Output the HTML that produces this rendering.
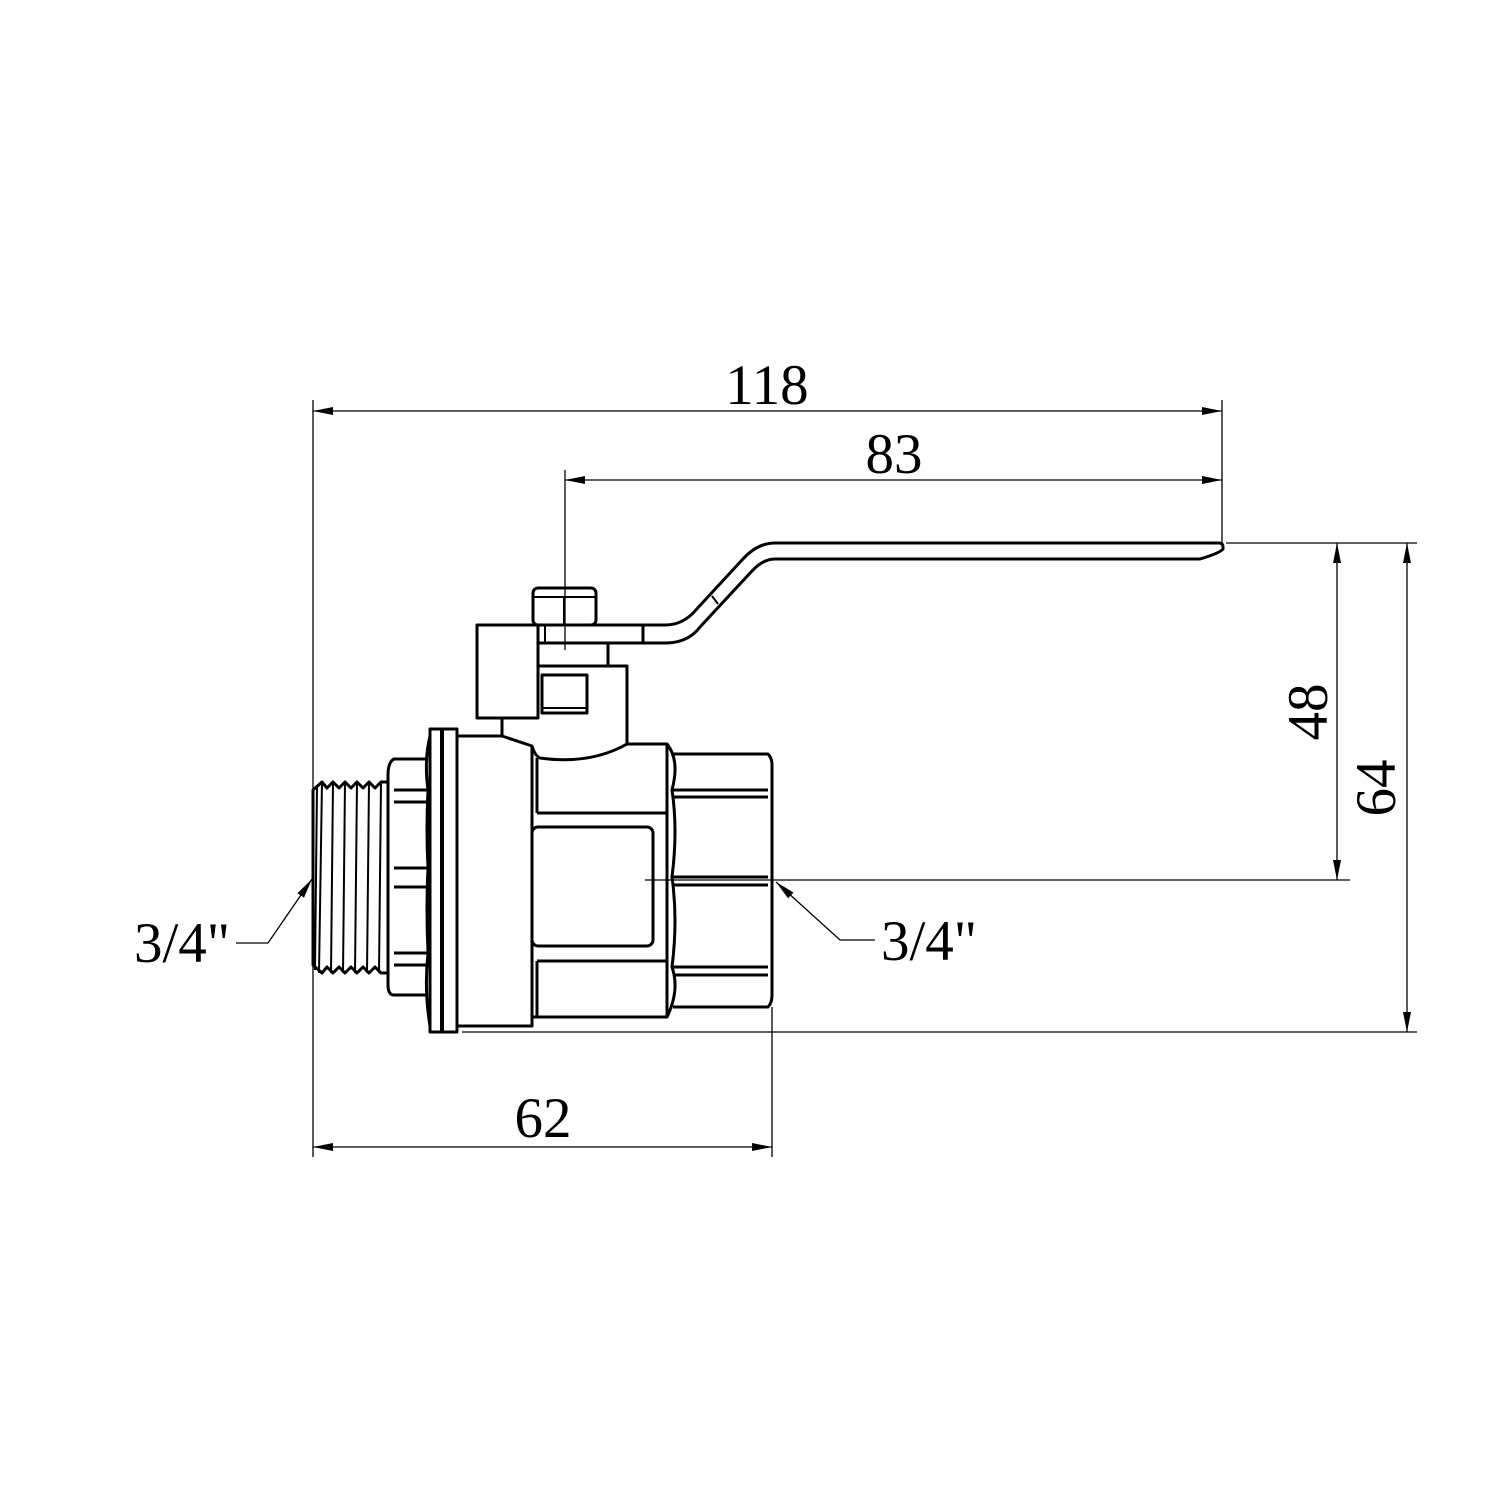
<!DOCTYPE html>
<html><head><meta charset="utf-8"><style>html,body{margin:0;padding:0;background:#fff}svg{display:block}</style></head>
<body>
<svg width="1500" height="1500" viewBox="0 0 1500 1500" xmlns="http://www.w3.org/2000/svg">
<defs>
<marker id="a" viewBox="0 0 20 8" refX="20" refY="4" markerWidth="20" markerHeight="8" markerUnits="userSpaceOnUse" orient="auto-start-reverse"><path d="M0,0 L20,4 L0,8 Z" fill="#000"/></marker>
</defs>
<g fill="none" stroke="#000" stroke-width="1.3">
<!-- extension lines -->
<line x1="313" y1="400" x2="313" y2="1157"/>
<line x1="1222" y1="400" x2="1222" y2="543"/>
<line x1="565" y1="470" x2="565" y2="650"/>
<line x1="772" y1="1007" x2="772" y2="1157"/>
<line x1="1226" y1="543" x2="1417" y2="543"/>
<line x1="645" y1="880" x2="1350" y2="880"/>
<line x1="462" y1="1032" x2="1417" y2="1032"/>
<!-- dimension lines -->
<line x1="313" y1="411" x2="1222" y2="411" marker-start="url(#a)" marker-end="url(#a)"/>
<line x1="565" y1="480" x2="1222" y2="480" marker-start="url(#a)" marker-end="url(#a)"/>
<line x1="313" y1="1147" x2="772" y2="1147" marker-start="url(#a)" marker-end="url(#a)"/>
<line x1="1337" y1="543" x2="1337" y2="880" marker-start="url(#a)" marker-end="url(#a)"/>
<line x1="1407" y1="543" x2="1407" y2="1032" marker-start="url(#a)" marker-end="url(#a)"/>
<!-- leaders -->
<polyline points="236,943 268,943 312,879" marker-end="url(#a)"/>
<polyline points="875,940 840,940 776,882" marker-end="url(#a)"/>
</g>
<g fill="none" stroke="#000" stroke-width="3" stroke-linejoin="round">
<!-- handle -->
<path d="M643,625 L665,625 Q682,625 694,612 L742,560 Q757,543 775,543 L1219,543 Q1223,543 1223,547 L1223,549 Q1220,553 1200,559 L775,559 Q763,559 752,571 L700,627 Q688,643 665,643 L538,643"/>
<line x1="712" y1="596" x2="718" y2="604" stroke-width="2"/>
<line x1="643" y1="625" x2="643" y2="643"/>
<line x1="538" y1="625" x2="643" y2="625"/>
<line x1="545" y1="625" x2="545" y2="643" stroke-width="2"/>
<!-- nut -->
<rect x="533" y="588" width="63" height="37" rx="5"/>
<line x1="534" y1="597" x2="595" y2="597" stroke-width="2"/>
<line x1="564" y1="597" x2="564" y2="625" stroke-width="2"/>
<!-- left block -->
<rect x="477" y="625" width="61" height="93"/>
<line x1="502" y1="718" x2="502" y2="736"/>
<!-- bonnet -->
<polyline points="538,643 538,666 627,666 627,744"/>
<line x1="608" y1="643" x2="608" y2="666"/>
<rect x="542" y="675" width="45" height="38"/>
<line x1="542" y1="708" x2="587" y2="708" stroke-width="2"/>
<!-- thread -->
<path d="M313,790 L322,782 L327,788 L333,782 L339,788 L345,782 L351,788 L357,782 L363,788 L369,782 L375,788 L381,782 L388,782 L388,973 L381,973 L375,967 L369,973 L363,967 L357,973 L351,967 L345,973 L339,967 L333,973 L327,967 L322,973 L313,965 Z"/>
<g stroke-width="2">
<line x1="322" y1="782" x2="319" y2="973"/><line x1="333" y1="782" x2="331" y2="973"/><line x1="345" y1="782" x2="343" y2="973"/><line x1="357" y1="782" x2="355" y2="973"/><line x1="369" y1="782" x2="367" y2="973"/><line x1="381" y1="782" x2="379" y2="973"/><line x1="317" y1="786" x2="315" y2="970"/>
</g>
<!-- left hex -->
<path d="M428,759 L394,759 Q388,762 388,775 L388,985 Q388,995 394,995 L428,995"/>
<line x1="394" y1="790" x2="428" y2="790"/><line x1="394" y1="802" x2="428" y2="802"/>
<line x1="394" y1="868" x2="428" y2="868"/><line x1="394" y1="887" x2="428" y2="887"/>
<line x1="394" y1="953" x2="428" y2="953"/><line x1="394" y1="965" x2="428" y2="965"/>
<path d="M430,736 Q424,760 428,790 Q426,830 428,868 Q426,910 428,953 Q424,990 430,1026"/>
<!-- flange -->
<rect x="430" y="729" width="27" height="303"/>
<line x1="442" y1="729" x2="442" y2="1032" stroke-width="4"/>
<!-- body left -->
<path d="M457,736 L502,736 L532,746 L532,1026 L457,1026"/>
<!-- center body -->
<path d="M532,746 Q535,756 540,758 Q590,765 627,744 L667,744 L667,1017 L532,1017"/>
<line x1="537" y1="758" x2="537" y2="813"/>
<line x1="537" y1="813" x2="667" y2="813"/>
<rect x="532" y="827" width="121" height="119" rx="6"/>
<line x1="537" y1="961" x2="667" y2="961"/>
<line x1="537" y1="961" x2="537" y2="1017"/>
<!-- right hex -->
<path d="M667,744 Q680,760 672,790 Q678,830 672,877 Q678,920 672,967 Q680,990 667,1017"/>
<path d="M673,754 L768,754 Q772,758 772,765 L772,995 Q772,1003 768,1007 L673,1007"/>
<line x1="673" y1="790" x2="768" y2="790"/><line x1="673" y1="797" x2="768" y2="797"/>
<line x1="673" y1="877" x2="768" y2="877"/><line x1="673" y1="885" x2="768" y2="885"/>
<line x1="673" y1="967" x2="768" y2="967"/><line x1="673" y1="975" x2="768" y2="975"/>
</g>
<g font-family="'Liberation Serif', serif" font-size="57" fill="#000">
<text x="767" y="404" text-anchor="middle">118</text>
<text x="894" y="473" text-anchor="middle">83</text>
<text x="543" y="1137" text-anchor="middle">62</text>
<text x="182" y="962" text-anchor="middle">3/4"</text>
<text x="929" y="960" text-anchor="middle">3/4"</text>
<text transform="translate(1327,712) rotate(-90)" text-anchor="middle">48</text>
<text transform="translate(1395,788) rotate(-90)" text-anchor="middle">64</text>
</g>
</svg>
</body></html>
